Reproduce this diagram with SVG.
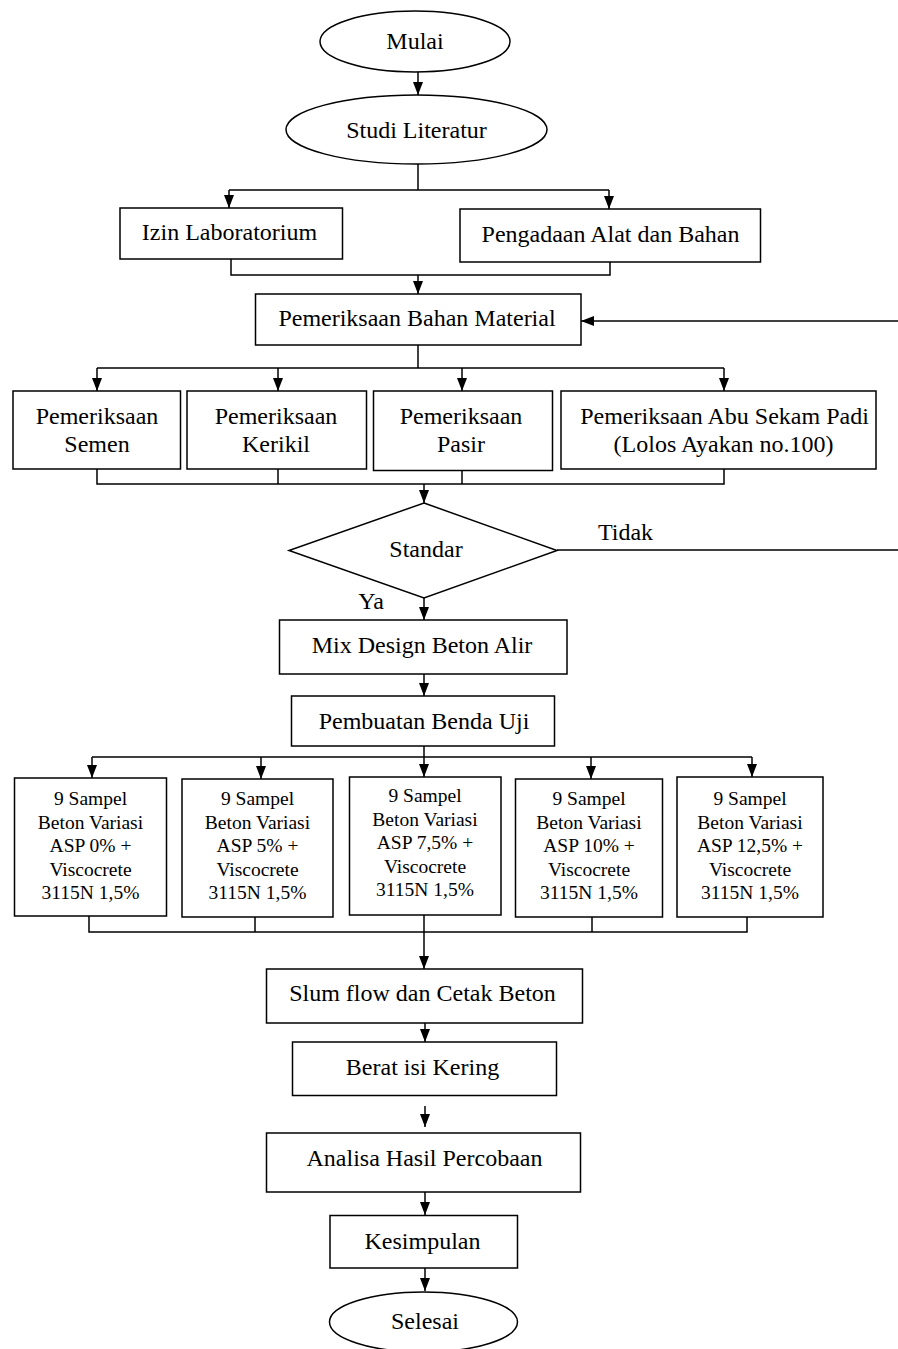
<svg xmlns="http://www.w3.org/2000/svg" width="898" height="1349" viewBox="0 0 898 1349">
<style>
.b{fill:#fff;stroke:#000;stroke-width:1.5}
.l{fill:none;stroke:#000;stroke-width:1.5}
.t{font-family:"Liberation Serif","Times New Roman",serif;font-size:24px;fill:#000;text-anchor:middle}
.s{font-family:"Liberation Serif","Times New Roman",serif;font-size:19.5px;fill:#000;text-anchor:middle}
</style>
<defs>
<marker id="a" markerUnits="userSpaceOnUse" markerWidth="13" markerHeight="10" refX="13" refY="5" orient="auto">
<path d="M0,0 L13,5 L0,10 z" fill="#000"/>
</marker>
</defs>
<g id="connectors" class="l">
<path d="M418,72 V95" marker-end="url(#a)"/>
<path d="M418,164 V190"/>
<path d="M229,190 H609"/>
<path d="M229,190 V208" marker-end="url(#a)"/>
<path d="M609,190 V209" marker-end="url(#a)"/>
<path d="M231,259 V275 H610 V262"/>
<path d="M418,275 V294" marker-end="url(#a)"/>
<path d="M898,321 H581" marker-end="url(#a)"/>
<path d="M418,345 V368"/>
<path d="M97,368 H724"/>
<path d="M97,368 V391" marker-end="url(#a)"/>
<path d="M278,368 V391" marker-end="url(#a)"/>
<path d="M462,368 V391" marker-end="url(#a)"/>
<path d="M724,368 V391" marker-end="url(#a)"/>
<path d="M97,469 V484 H724 V469"/>
<path d="M278,469 V484"/>
<path d="M462,470 V484"/>
<path d="M424,484 V503" marker-end="url(#a)"/>
<path d="M557,550 H898"/>
<path d="M424,598 V620" marker-end="url(#a)"/>
<path d="M424,674 V696" marker-end="url(#a)"/>
<path d="M424,746 V757"/>
<path d="M92,757 H752"/>
<path d="M92,757 V778" marker-end="url(#a)"/>
<path d="M261,757 V779" marker-end="url(#a)"/>
<path d="M424,757 V777" marker-end="url(#a)"/>
<path d="M591,757 V779" marker-end="url(#a)"/>
<path d="M752,757 V777" marker-end="url(#a)"/>
<path d="M89,916 V932 H747 V917"/>
<path d="M255,917 V932"/>
<path d="M592,917 V932"/>
<path d="M424,915 V969" marker-end="url(#a)"/>
<path d="M425,1023 V1042" marker-end="url(#a)"/>
<path d="M425,1106 V1127" marker-end="url(#a)"/>
<path d="M425,1192 V1215" marker-end="url(#a)"/>
<path d="M425,1268 V1291" marker-end="url(#a)"/>
</g>
<g id="mulai"><ellipse class="b" cx="415" cy="41.5" rx="95" ry="30.5"/><text class="t" x="415" y="48.5">Mulai</text></g>
<g id="studi"><ellipse class="b" cx="416.5" cy="129.5" rx="130.5" ry="34.5"/><text class="t" x="416.5" y="137.5">Studi Literatur</text></g>
<g id="izin"><rect class="b" x="120" y="208" width="222.5" height="51"/><text class="t" x="229.5" y="240">Izin Laboratorium</text></g>
<g id="pengadaan"><rect class="b" x="460" y="209" width="300.5" height="53"/><text class="t" x="610.5" y="241.5">Pengadaan Alat dan Bahan</text></g>
<g id="pemeriksaan-bahan"><rect class="b" x="255.5" y="294" width="325.5" height="51"/><text class="t" x="417" y="325.5">Pemeriksaan Bahan Material</text></g>
<g id="semen"><rect class="b" x="13" y="391" width="167.5" height="78"/><text class="t" x="97" y="423.5">Pemeriksaan</text><text class="t" x="97" y="451.5">Semen</text></g>
<g id="kerikil"><rect class="b" x="187" y="391" width="179.5" height="78"/><text class="t" x="276" y="423.5">Pemeriksaan</text><text class="t" x="276" y="451.5">Kerikil</text></g>
<g id="pasir"><rect class="b" x="373.5" y="391" width="179" height="79.5"/><text class="t" x="461" y="423.5">Pemeriksaan</text><text class="t" x="461" y="451.5">Pasir</text></g>
<g id="abu"><rect class="b" x="561" y="391" width="315" height="78"/><text class="t" x="724.5" y="423.5">Pemeriksaan Abu Sekam Padi</text><text class="t" x="723.5" y="451.5">(Lolos Ayakan no.100)</text></g>
<g id="standar"><polygon class="b" points="424,503 557,550.5 424,598 289,550.5"/><text class="t" x="426" y="556.5">Standar</text></g>
<g id="label-tidak"><text class="t" x="625.5" y="540">Tidak</text></g>
<g id="label-ya"><text class="t" x="371" y="609">Ya</text></g>
<g id="mix"><rect class="b" x="279.5" y="620" width="287.5" height="54"/><text class="t" x="422" y="652.5">Mix Design Beton Alir</text></g>
<g id="pembuatan"><rect class="b" x="291.5" y="696" width="263" height="50"/><text class="t" x="424" y="728.5">Pembuatan Benda Uji</text></g>
<g id="sampel0"><rect class="b" x="14.5" y="778" width="152" height="138"/><text class="s" x="90.5"><tspan x="90.5" y="805">9 Sampel</tspan><tspan x="90.5" y="829">Beton Variasi</tspan><tspan x="90.5" y="852">ASP 0% +</tspan><tspan x="90.5" y="876">Viscocrete</tspan><tspan x="90.5" y="899">3115N 1,5%</tspan></text></g>
<g id="sampel5"><rect class="b" x="182" y="779" width="151" height="138"/><text class="s" x="257.5"><tspan x="257.5" y="805">9 Sampel</tspan><tspan x="257.5" y="829">Beton Variasi</tspan><tspan x="257.5" y="852">ASP 5% +</tspan><tspan x="257.5" y="876">Viscocrete</tspan><tspan x="257.5" y="899">3115N 1,5%</tspan></text></g>
<g id="sampel75"><rect class="b" x="349.5" y="777" width="151.5" height="138"/><text class="s" x="425"><tspan x="425" y="802">9 Sampel</tspan><tspan x="425" y="826">Beton Variasi</tspan><tspan x="425" y="849">ASP 7,5% +</tspan><tspan x="425" y="872.5">Viscocrete</tspan><tspan x="425" y="896">3115N 1,5%</tspan></text></g>
<g id="sampel10"><rect class="b" x="515.5" y="779" width="147" height="138"/><text class="s" x="589"><tspan x="589" y="805">9 Sampel</tspan><tspan x="589" y="829">Beton Variasi</tspan><tspan x="589" y="852">ASP 10% +</tspan><tspan x="589" y="876">Viscocrete</tspan><tspan x="589" y="899">3115N 1,5%</tspan></text></g>
<g id="sampel125"><rect class="b" x="677" y="777" width="146" height="140"/><text class="s" x="750"><tspan x="750" y="805">9 Sampel</tspan><tspan x="750" y="829">Beton Variasi</tspan><tspan x="750" y="852">ASP 12,5% +</tspan><tspan x="750" y="876">Viscocrete</tspan><tspan x="750" y="899">3115N 1,5%</tspan></text></g>
<g id="slum"><rect class="b" x="266.5" y="969" width="316" height="54"/><text class="t" x="422.5" y="1001">Slum flow dan Cetak Beton</text></g>
<g id="berat"><rect class="b" x="292.5" y="1042" width="264" height="53.5"/><text class="t" x="422.5" y="1075">Berat isi Kering</text></g>
<g id="analisa"><rect class="b" x="266.5" y="1133" width="314" height="59"/><text class="t" x="424.5" y="1166">Analisa Hasil Percobaan</text></g>
<g id="kesimpulan"><rect class="b" x="330" y="1215.5" width="187.5" height="52.5"/><text class="t" x="422.5" y="1248.5">Kesimpulan</text></g>
<g id="selesai"><ellipse class="b" cx="423.5" cy="1322" rx="94" ry="30"/><text class="t" x="425" y="1328.5">Selesai</text></g>
</svg>
